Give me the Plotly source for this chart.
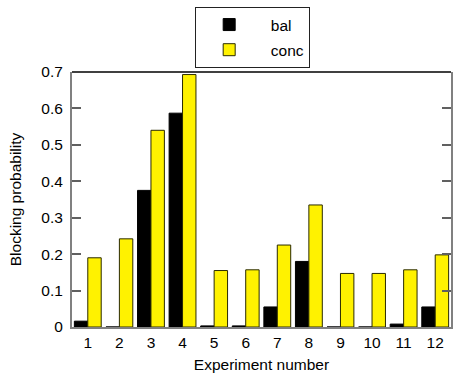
import plotly.graph_objects as go

experiments = [str(i) for i in range(1, 13)]
bal = [0.016, 0.0, 0.375, 0.587, 0.003, 0.003, 0.055, 0.180, 0.0, 0.0, 0.008, 0.055]
conc = [0.190, 0.242, 0.540, 0.693, 0.155, 0.157, 0.225, 0.335, 0.147, 0.147, 0.157, 0.198]
y_ticks = [0, 0.1, 0.2, 0.3, 0.4, 0.5, 0.6, 0.7]
y_tick_text = ["0", "0.1", "0.2", "0.3", "0.4", "0.5", "0.6", "0.7"]

font_family = "Arial"
fsize = 15.5
pad = "\u00a0\u00a0"  # a little space between legend swatch and label

fig = go.Figure()
fig.add_trace(go.Bar(
    x=experiments, y=bal, name=pad + "bal", legendgroup="bal",
    marker=dict(color="#000000", line=dict(color="#000000", width=1)),
))
fig.add_trace(go.Bar(
    x=experiments, y=conc, name=pad + "conc", legendgroup="conc",
    marker=dict(color="#fff200", line=dict(color="#2a2a00", width=1)),
))

fig.update_layout(
    width=454, height=373,
    margin=dict(l=72, r=1, t=72, b=46),
    paper_bgcolor="white", plot_bgcolor="white",
    barmode="group", bargap=0.15, bargroupgap=0,
    font=dict(family=font_family, size=fsize, color="#000000"),
    showlegend=True,
    legend=dict(
        x=0.325, y=1.255, xanchor="left", yanchor="top",
        bordercolor="#222222", borderwidth=1, bgcolor="white",
        font=dict(family=font_family, size=fsize),
        itemwidth=56, entrywidth=34, tracegroupgap=2,
    ),
    xaxis=dict(
        type="category", range=[-0.5, 11.5],
        showline=True, linecolor="#808080", linewidth=2,
        ticks="", showgrid=False, zeroline=False,
        tickfont=dict(family=font_family, size=fsize),
        title=dict(text="Experiment number", standoff=11,
                   font=dict(family=font_family, size=fsize)),
    ),
    yaxis=dict(
        range=[0, 0.7], tickvals=y_ticks, ticktext=y_tick_text,
        showline=True, linecolor="#808080", linewidth=2,
        ticks="inside", ticklen=9, tickcolor="#606060", tickwidth=1.5,
        mirror="ticks", showgrid=False, zeroline=False,
        ticklabelstandoff=4,
        tickfont=dict(family=font_family, size=fsize),
        title=dict(text="Blocking probability", standoff=16,
                   font=dict(family=font_family, size=fsize)),
    ),
    shapes=[
        dict(type="line", xref="paper", yref="paper", x0=0, x1=1, y0=1, y1=1,
             line=dict(color="#000000", width=1.5)),
    ],
)

fig.write_html("out.html")
